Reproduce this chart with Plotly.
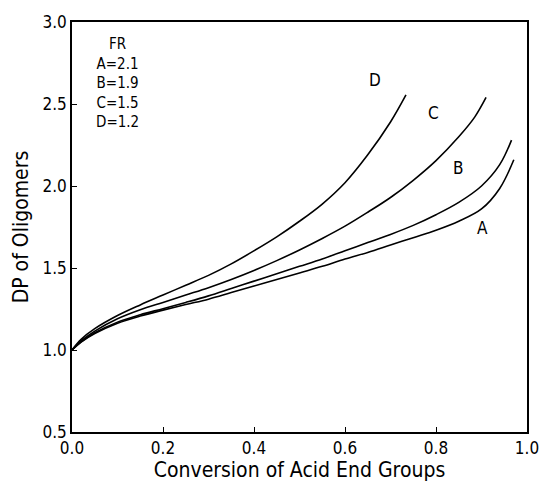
import plotly.graph_objects as go

# Data
xA = [0, 0.02, 0.05, 0.1, 0.15, 0.2, 0.25, 0.3, 0.35, 0.4, 0.45, 0.5, 0.55, 0.6, 0.65, 0.7, 0.75, 0.8, 0.85, 0.9, 0.94, 0.971]
yA = [1.0, 1.048, 1.1, 1.163, 1.207, 1.243, 1.277, 1.31, 1.35, 1.39, 1.43, 1.47, 1.51, 1.555, 1.595, 1.64, 1.685, 1.73, 1.785, 1.86, 1.985, 2.16]

xB = [0, 0.02, 0.05, 0.1, 0.15, 0.2, 0.25, 0.3, 0.35, 0.4, 0.45, 0.5, 0.55, 0.6, 0.65, 0.7, 0.75, 0.8, 0.85, 0.9, 0.94, 0.966]
yB = [1.0, 1.05, 1.105, 1.17, 1.215, 1.252, 1.29, 1.33, 1.375, 1.42, 1.465, 1.51, 1.555, 1.605, 1.655, 1.705, 1.76, 1.825, 1.9, 2.0, 2.13, 2.28]

xC = [0, 0.02, 0.05, 0.1, 0.15, 0.2, 0.25, 0.3, 0.35, 0.4, 0.45, 0.5, 0.55, 0.6, 0.65, 0.7, 0.75, 0.8, 0.85, 0.885, 0.91]
yC = [1.0, 1.055, 1.115, 1.19, 1.245, 1.29, 1.335, 1.38, 1.43, 1.485, 1.545, 1.61, 1.68, 1.755, 1.84, 1.93, 2.035, 2.155, 2.3, 2.42, 2.54]

xD = [0, 0.02, 0.05, 0.1, 0.15, 0.2, 0.25, 0.3, 0.35, 0.4, 0.45, 0.5, 0.55, 0.6, 0.65, 0.7, 0.734]
yD = [1.0, 1.065, 1.13, 1.21, 1.275, 1.335, 1.395, 1.455, 1.525, 1.605, 1.69, 1.785, 1.89, 2.02, 2.19, 2.39, 2.555]

curve_labels = ["A", "B", "C", "D"]
label_x = [0.903, 0.849, 0.794, 0.665]
label_y = [1.744, 2.111, 2.447, 2.645]

legend_lines = ["FR", "A=2.1", "B=1.9", "C=1.5", "D=1.2"]

x_ticks = [0.0, 0.2, 0.4, 0.6, 0.8, 1.0]
y_ticks = [0.5, 1.0, 1.5, 2.0, 2.5, 3.0]

FONT = "DejaVu Sans Condensed, Liberation Sans Narrow, sans-serif"

fig = go.Figure()
for xs, ys in [(xA, yA), (xB, yB), (xC, yC), (xD, yD)]:
    fig.add_trace(go.Scatter(x=xs, y=ys, mode="lines",
                             line=dict(color="black", width=1.6, shape="spline", smoothing=1.0),
                             showlegend=False, hoverinfo="skip"))

for t, lx, ly in zip(curve_labels, label_x, label_y):
    fig.add_annotation(x=lx, y=ly, text=t, showarrow=False,
                       font=dict(family=FONT, size=17, color="black"))

fig.add_annotation(x=0.099, y=2.63, text="<br>".join(legend_lines), showarrow=False,
                   align="center", font=dict(family=FONT, size=15, color="black"))

fig.update_layout(
    width=551, height=488,
    margin=dict(l=72, r=14, t=20, b=52),
    paper_bgcolor="white", plot_bgcolor="white",
    font=dict(family=FONT, color="black"),
)
fig.update_xaxes(range=[0, 1], tickvals=x_ticks, ticktext=[f"{v:.1f}" for v in x_ticks],
                 showgrid=False, zeroline=False, showline=True, linecolor="black", linewidth=1.5,
                 mirror=True, ticks="inside", ticklen=5, tickcolor="black",
                 tickfont=dict(family=FONT, size=17),
                 title=dict(text="Conversion of Acid End Groups", font=dict(family=FONT, size=21), standoff=3))
fig.update_yaxes(range=[0.5, 3.0], tickvals=y_ticks, ticktext=[f"{v:.1f}" for v in y_ticks],
                 showgrid=False, zeroline=False, showline=True, linecolor="black", linewidth=1.5,
                 mirror=True, ticks="inside", ticklen=5, tickcolor="black",
                 tickfont=dict(family=FONT, size=17),
                 title=dict(text="DP of Oligomers", font=dict(family=FONT, size=21), standoff=8))

fig.write_html("out.html")
